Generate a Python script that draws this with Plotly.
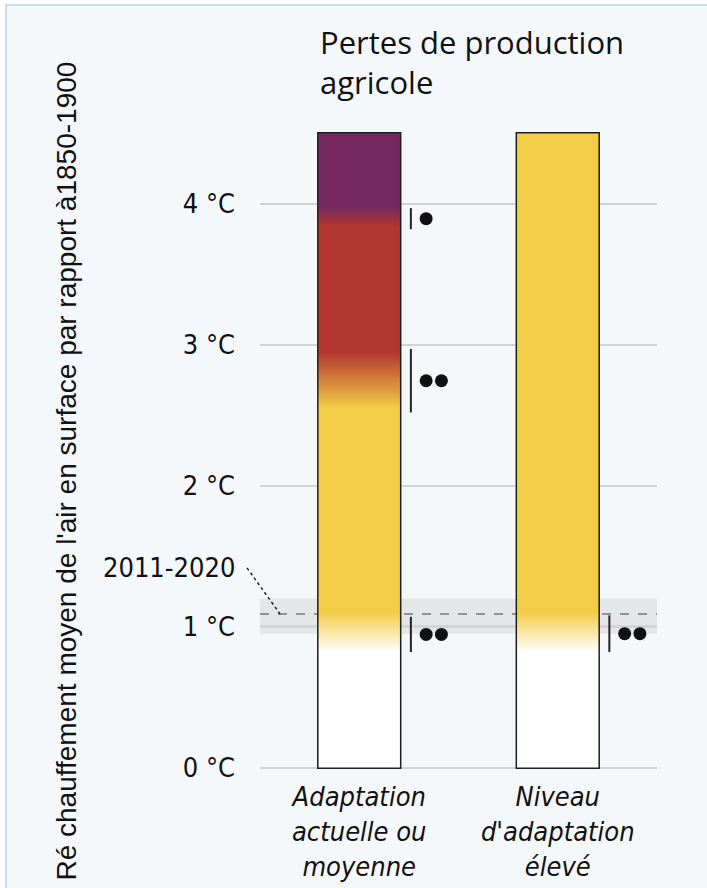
import plotly.graph_objects as go

# Categories (x) and bar heights (°C)
categories = ["<i>Adaptation<br>actuelle ou<br>moyenne</i>",
              "<i>Niveau<br>d'adaptation<br>élevé</i>"]
bar_top = [4.5, 4.5]

# Risk level at each warming breakpoint (0 = non détectable, 1 = modéré, 2 = élevé, 3 = très élevé)
current_temps = [0.0, 0.82, 1.10, 2.55, 2.95, 3.84, 3.98, 4.5]
current_risk = [0, 0, 1, 1, 2, 2, 3, 3]
high_temps = [0.0, 0.82, 1.10, 4.5]
high_risk = [0, 0, 1, 1]

# Confidence for each transition
current_conf_low = [0.82, 2.52, 3.82]
current_conf_high = [1.07, 2.97, 3.97]
current_conf_dots = [2, 2, 1]
high_conf_low = [0.82]
high_conf_high = [1.08]
high_conf_dots = [2]

# Observed warming 2011-2020
warming_2011_2020 = 1.09
warming_2011_2020_range = [0.95, 1.20]

temp_ticks = [0, 1, 2, 3, 4]
temp_labels = ["0 °C", "1 °C", "2 °C", "3 °C", "4 °C"]

risk_colors = ["#ffffff", "#f3cc48", "#b1362f", "#74285f"]

BAR_W = 0.41
CONDENSED = "DejaVu Sans Condensed, DejaVu Sans, sans-serif"

fig = go.Figure()

bars = [(current_temps, current_risk), (high_temps, high_risk)]
for i, (temps, risk) in enumerate(bars):
    top = bar_top[i]
    scale = [[t / top, risk_colors[r]] for t, r in zip(temps, risk)]
    x0, x1 = i - BAR_W / 2, i + BAR_W / 2
    fig.add_trace(go.Scatter(
        x=[x0, x1, x1, x0, x0], y=[0, 0, top, top, 0],
        mode="lines", line=dict(width=0), fill="toself",
        fillgradient=dict(type="vertical", colorscale=scale),
        hoverinfo="skip", showlegend=False))

# bar outlines
fig.add_trace(go.Bar(
    x=[0, 1], y=bar_top, width=BAR_W,
    marker=dict(color="rgba(0,0,0,0)", line=dict(color="#1e1e1e", width=3)),
    hoverinfo="skip", showlegend=False))

# confidence markers
confs = [(current_conf_low, current_conf_high, current_conf_dots),
         (high_conf_low, high_conf_high, high_conf_dots)]
lx, ly, dx, dy = [], [], [], []
for i, (lo, hi, dots) in enumerate(confs):
    for a, b, n in zip(lo, hi, dots):
        lx += [i + 0.26, i + 0.26, None]
        ly += [a, b, None]
        for k in range(n):
            dx.append(i + 0.337 + 0.077 * k)
            dy.append((a + b) / 2)
fig.add_trace(go.Scatter(x=lx, y=ly, mode="lines",
                         line=dict(color="#222222", width=2),
                         hoverinfo="skip", showlegend=False))
fig.add_trace(go.Scatter(x=dx, y=dy, mode="markers",
                         marker=dict(color="#111111", size=13),
                         hoverinfo="skip", showlegend=False))

shapes = [
    # panel background with light-blue frame (top and left edges only visible)
    dict(type="rect", xref="paper", yref="paper", x0=-0.64, x1=1.13, y0=-0.2, y1=1.1994,
         fillcolor="#f5f8fb", line=dict(color="#b7d4ee", width=1.5), layer="below"),
    dict(type="rect", xref="x domain", yref="y", x0=0, x1=1,
         y0=warming_2011_2020_range[0], y1=warming_2011_2020_range[1],
         fillcolor="#e5e6e7", line=dict(width=0), layer="below"),
    dict(type="line", xref="x domain", yref="y", x0=0, x1=1, y0=1, y1=1,
         line=dict(color="#9f9f9f", width=2), layer="below"),
    dict(type="line", xref="x domain", yref="y", x0=0, x1=1,
         y0=warming_2011_2020, y1=warming_2011_2020,
         line=dict(color="#777777", width=1.5, dash="dash"), layer="below"),
    dict(type="line", xref="paper", yref="y", x0=-0.0327, x1=0.0504,
         y0=1.417, y1=warming_2011_2020,
         line=dict(color="#222222", width=1.5, dash="dot")),
]

annotations = [
    dict(text="Pertes de production<br>agricole", xref="paper", yref="paper",
         x=0.146, y=1.178, xanchor="left", yanchor="top", align="left",
         showarrow=False, font=dict(family="Open Sans", size=31, color="#111111")),
    dict(text="2011-2020", xref="paper", yref="y", x=-0.058, y=1.42,
         xanchor="right", yanchor="middle", showarrow=False,
         font=dict(family=CONDENSED, size=27, color="#111111")),
    dict(text="Ré chauffement moyen de l'air en surface par rapport à1850-1900",
         xref="paper", yref="paper", x=-0.487, y=0.468, textangle=-90,
         xanchor="center", yanchor="middle", showarrow=False,
         font=dict(family="Liberation Sans, Arial, sans-serif", size=28, color="#111111")),
]

fig.update_layout(
    width=707, height=888,
    margin=dict(l=260, r=50, t=132, b=119),
    paper_bgcolor="#ffffff", plot_bgcolor="rgba(0,0,0,0)",
    showlegend=False, shapes=shapes, annotations=annotations,
    xaxis=dict(range=[-0.5, 1.5], tickvals=[0, 1], ticktext=categories,
               showgrid=False, zeroline=False, showline=False, ticks="",
               automargin=False, ticklabelstandoff=9,
               tickfont=dict(family=CONDENSED, size=27, color="#111111")),
    yaxis=dict(range=[-0.01, 4.51], tickvals=temp_ticks, ticktext=temp_labels,
               showgrid=True, gridcolor="#d2d3d5", gridwidth=2, zeroline=False,
               showline=False, ticks="", ticklabelstandoff=24, automargin=False,
               tickfont=dict(family=CONDENSED, size=27, color="#111111")),
)

fig.write_html(
    "out.html", config={"displayModeBar": False},
    post_script="document.body.style.margin='0';")
